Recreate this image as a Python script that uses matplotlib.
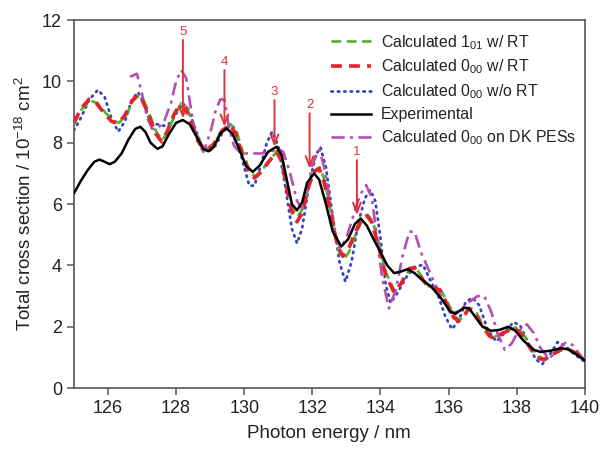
import matplotlib
matplotlib.use("Agg")
import matplotlib.pyplot as plt

plt.rcParams['font.family'] = ['Liberation Sans', 'DejaVu Sans']
plt.rcParams['mathtext.default'] = 'regular'

# ---------------- data ----------------
exp_x = [125.0, 125.2, 125.4, 125.6, 125.75, 125.9, 126.05, 126.2, 126.4, 126.6, 126.8, 126.95,
         127.1, 127.25, 127.45, 127.6, 127.8, 128.0, 128.2, 128.4, 128.6, 128.8, 128.95, 129.1,
         129.3, 129.48, 129.65, 129.85, 130.05, 130.25, 130.45, 130.7, 130.95, 131.1, 131.25,
         131.4, 131.55, 131.7, 131.85, 132.05, 132.2, 132.4, 132.6, 132.85, 133.05, 133.25,
         133.42, 133.6, 133.8, 134.0, 134.2, 134.4, 134.6, 134.8, 135.0, 135.2, 135.5, 135.8,
         136.05, 136.2, 136.45, 136.6, 136.8, 137.0, 137.25, 137.5, 137.75, 137.95, 138.2,
         138.5, 138.7, 139.0, 139.3, 139.5, 139.75, 140.0]
exp_y = [6.35, 6.75, 7.1, 7.38, 7.45, 7.38, 7.3, 7.38, 7.65, 8.1, 8.45, 8.52,
         8.35, 8.0, 7.8, 7.88, 8.3, 8.65, 8.74, 8.6, 8.2, 7.8, 7.72, 7.85,
         8.3, 8.47, 8.3, 7.8, 7.25, 7.05, 7.25, 7.7, 7.87, 7.6, 6.8,
         6.0, 5.8, 6.05, 6.7, 7.0, 6.8, 6.0, 5.1, 4.62, 4.85, 5.35,
         5.53, 5.3, 4.85, 4.44, 4.0, 3.75, 3.8, 3.88, 3.75, 3.55, 3.3, 2.9,
         2.5, 2.42, 2.62, 2.6, 2.3, 2.0, 1.87, 1.9, 2.0, 1.88, 1.55,
         1.25, 1.18, 1.22, 1.3, 1.27, 1.1, 0.9]

red_x = [125.0, 125.2, 125.45, 125.65, 125.9, 126.1, 126.3, 126.5, 126.7, 126.85, 127.0, 127.2,
         127.4, 127.58, 127.75, 127.95, 128.12, 128.3, 128.5, 128.7, 128.9, 129.1, 129.35,
         129.58, 129.75, 129.95, 130.15, 130.3, 130.5, 130.7, 130.95, 131.1, 131.25, 131.4,
         131.55, 131.7, 131.9, 132.05, 132.2, 132.35, 132.55, 132.75, 132.9, 133.05, 133.25,
         133.45, 133.6, 133.75, 133.95, 134.15, 134.4, 134.6, 134.85, 135.0, 135.2, 135.4,
         135.6, 135.75, 135.95, 136.15, 136.3, 136.45, 136.6, 136.75, 137.0, 137.2, 137.35,
         137.6, 137.95, 138.15, 138.4, 138.6, 138.8, 139.05, 139.35, 139.55, 139.8, 140.0]
red_y = [8.65, 9.1, 9.42, 9.3, 8.95, 8.7, 8.63, 8.9, 9.35, 9.55, 9.4, 8.9,
         8.3, 8.03, 8.4, 8.95, 9.25, 9.05, 8.45, 7.95, 7.76, 7.95, 8.4,
         8.58, 8.3, 7.6, 7.0, 6.85, 7.05, 7.35, 7.7, 7.4, 6.5, 5.75,
         5.42, 5.7, 6.6, 7.05, 7.16, 6.7, 5.6, 4.6, 4.3, 4.5, 5.05,
         5.5, 5.62, 5.4, 4.6, 3.7, 3.12, 3.4, 3.9, 3.92, 3.6, 3.3,
         3.25, 3.2, 2.75, 2.3, 2.18, 2.35, 2.6, 2.5, 2.0, 1.7, 1.62,
         1.8, 1.95, 1.75, 1.3, 1.0, 0.92, 1.1, 1.28, 1.25, 1.1, 0.9]

green_x = [125.0, 125.2, 125.48, 125.7, 125.95, 126.15, 126.33, 126.55, 126.72, 126.88, 127.05, 127.22,
           127.42, 127.6, 127.78, 127.98, 128.15, 128.33, 128.52, 128.72, 128.92, 129.12, 129.37,
           129.6, 129.78, 129.97, 130.17, 130.32, 130.52, 130.72, 130.97, 131.12, 131.27, 131.42,
           131.57, 131.72, 131.92, 132.08, 132.22, 132.37, 132.57, 132.77, 132.92, 133.07, 133.27,
           133.47, 133.62, 133.77, 133.97, 134.17, 134.42, 134.62, 134.87, 135.02, 135.22, 135.42,
           135.62, 135.77, 135.97, 136.17, 136.32, 136.47, 136.62, 136.77, 137.02, 137.22, 137.37,
           137.62, 137.97, 138.17, 138.42, 138.62, 138.82, 139.07, 139.37, 139.57, 139.82, 140.0]
green_y = [8.6, 9.05, 9.38, 9.28, 8.95, 8.72, 8.65, 8.92, 9.35, 9.52, 9.38, 8.92,
           8.35, 8.08, 8.42, 8.95, 9.28, 9.1, 8.5, 8.0, 7.8, 7.98, 8.42,
           8.6, 8.35, 7.65, 7.05, 6.9, 7.1, 7.4, 7.72, 7.45, 6.6, 5.85,
           5.6, 5.85, 6.7, 7.1, 7.2, 6.75, 5.6, 4.5, 4.2, 4.42, 5.0,
           5.5, 5.65, 5.45, 4.65, 3.75, 3.15, 3.42, 3.9, 3.95, 3.62, 3.32,
           3.25, 3.2, 2.8, 2.35, 2.22, 2.38, 2.6, 2.55, 2.05, 1.75, 1.68,
           1.82, 1.98, 1.8, 1.35, 1.05, 0.95, 1.1, 1.28, 1.25, 1.1, 0.9]

blue_x = [125.0, 125.2, 125.45, 125.7, 125.9, 126.1, 126.3, 126.5, 126.7, 126.88, 127.05, 127.25,
          127.45, 127.65, 127.85, 128.0, 128.2, 128.35, 128.55, 128.75, 128.95, 129.15, 129.35,
          129.6, 129.75, 129.95, 130.15, 130.3, 130.5, 130.65, 130.82, 131.0, 131.2, 131.4,
          131.55, 131.7, 131.9, 132.1, 132.24, 132.4, 132.6, 132.8, 132.97, 133.15, 133.35,
          133.55, 133.7, 133.85, 134.0, 134.15, 134.3, 134.5, 134.75, 135.0, 135.25, 135.45,
          135.7, 135.9, 136.1, 136.3, 136.5, 136.7, 136.9, 137.15, 137.4, 137.65, 137.9, 138.1,
          138.35, 138.55, 138.75, 138.95, 139.2, 139.4, 139.7, 140.0]
blue_y = [8.4, 8.8, 9.4, 9.72, 9.5, 8.8, 8.36, 8.7, 9.4, 9.65, 9.3, 8.65,
          8.6, 8.55, 8.65, 8.95, 9.28, 9.1, 8.5, 7.9, 7.7, 7.9, 8.3,
          8.63, 8.4, 7.4, 6.6, 6.6, 7.3, 7.95, 8.36, 7.9, 6.6, 5.2,
          4.72, 5.2, 6.6, 7.6, 7.85, 7.2, 5.6, 4.1, 3.47, 4.1, 5.4,
          6.2, 6.46, 6.1, 4.9, 3.4, 2.78, 3.1, 3.6, 3.95, 4.02, 3.55,
          3.0, 2.35, 1.92, 2.2, 2.8, 2.95, 2.7, 1.9, 1.52, 1.8, 2.15, 2.05,
          1.45, 0.95, 0.78, 1.05, 1.5, 1.4, 1.1, 0.86]

dk_x = [126.65, 126.85, 127.0, 127.15, 127.3, 127.45, 127.65, 127.85, 128.0, 128.15, 128.3, 128.45,
        128.6, 128.8, 129.0, 129.15, 129.3, 129.42, 129.55, 129.7, 129.9, 130.2, 130.5, 130.75,
        131.0, 131.15, 131.35, 131.55, 131.7, 131.85, 132.0, 132.2, 132.35, 132.55, 132.7,
        132.82, 133.0, 133.2, 133.4, 133.58, 133.75, 133.9, 134.05, 134.25, 134.45, 134.65,
        134.85, 135.0, 135.2, 135.4, 135.6, 135.8, 136.05, 136.3, 136.6, 136.85, 137.05, 137.25,
        137.45, 137.65, 137.85, 138.05, 138.3, 138.5, 138.7, 138.95, 139.2, 139.45, 139.65,
        139.85, 140.0]
dk_y = [10.15, 10.25, 9.6, 8.8, 8.45, 8.45, 8.7, 9.3, 10.0, 10.37, 10.1, 9.0,
        8.1, 7.7, 8.3, 9.0, 9.42, 9.4, 8.5, 7.9, 7.65, 7.65, 7.65, 7.7,
        7.8, 7.7, 7.0, 6.1, 5.85, 6.4, 7.3, 7.78, 7.2, 5.9, 4.9,
        4.55, 4.9, 5.6, 6.3, 6.62, 6.2, 4.9, 3.6, 2.6, 3.2, 4.3,
        5.1, 5.1, 4.4, 3.9, 3.4, 2.95, 2.45, 2.5, 2.8, 3.0, 3.0, 2.5,
        1.75, 1.25, 1.45, 1.85, 2.08, 1.8, 1.3, 0.95, 1.25, 1.5, 1.4,
        1.1, 0.9]

arrow_labels = ['1', '2', '3', '4', '5']
arrow_x = [133.31, 131.92, 130.89, 129.42, 128.2]
arrow_top = [7.43, 8.96, 9.39, 10.37, 11.35]
arrow_tip = [5.64, 7.16, 7.87, 8.52, 8.79]

x_ticks = [126, 128, 130, 132, 134, 136, 138, 140]
y_ticks = [0, 2, 4, 6, 8, 10, 12]

# ---------------- plot ----------------
fig = plt.figure(figsize=(6.01, 4.55), dpi=100)
ax = fig.add_axes([0.123, 0.147, 0.850, 0.809])

c_green = '#58b531'
c_red = '#e4222a'
c_blue = '#3345c2'
c_mag = '#b84fb0'
c_arrow = '#e0323a'

ax.plot(green_x, green_y, color=c_green, lw=2.0, ls=(0, (3.5, 2.0)),
        label='Calculated 1$_{01}$ w/ RT', zorder=3)
ax.plot(red_x, red_y, color=c_red, lw=2.6, ls=(0, (3.0, 2.0)),
        label='Calculated 0$_{00}$ w/ RT', zorder=4)
ax.plot(blue_x, blue_y, color=c_blue, lw=2.0, ls=(0, (0.5, 1.8)),
        dash_capstyle='round', label='Calculated 0$_{00}$ w/o RT', zorder=2)
ax.plot(exp_x, exp_y, color='black', lw=1.8, label='Experimental', zorder=5)
ax.plot(dk_x, dk_y, color=c_mag, lw=1.9, ls=(0, (5.0, 2.0, 1.2, 2.0)),
        label='Calculated 0$_{00}$ on DK PESs', zorder=3)

for lab, xa, yt, yb in zip(arrow_labels, arrow_x, arrow_top, arrow_tip):
    ax.annotate('', xy=(xa, yb), xytext=(xa, yt),
                arrowprops=dict(arrowstyle='->,head_length=0.7,head_width=0.28',
                                color=c_arrow, lw=1.4, shrinkA=0, shrinkB=0),
                zorder=6)
    ax.text(xa, yt + 0.08, lab, color=c_arrow, fontsize=9.5, ha='center', va='bottom', zorder=6)

ax.set_xlim(125, 140)
ax.set_ylim(0, 12)
ax.set_xticks(x_ticks)
ax.set_yticks(y_ticks)
for s in ax.spines.values():
    s.set_color('#555555')
    s.set_linewidth(1.2)
ax.tick_params(direction='out', length=5, width=1.1, color='#555555',
               labelsize=13, labelcolor='#222222')
ax.set_xlabel('Photon energy / nm', fontsize=13.5, color='#222222', labelpad=6)
ax.set_ylabel('Total cross section / 10$^{-18}$ cm$^2$', fontsize=13.5, color='#222222', labelpad=5)

leg = ax.legend(loc='upper right', bbox_to_anchor=(1.005, 0.995), frameon=False, fontsize=11.4,
                handlelength=2.55, handletextpad=0.62, labelspacing=0.38, borderaxespad=0.3)
for t in leg.get_texts():
    t.set_color('#222222')

fig.savefig('out.png', dpi=100)
